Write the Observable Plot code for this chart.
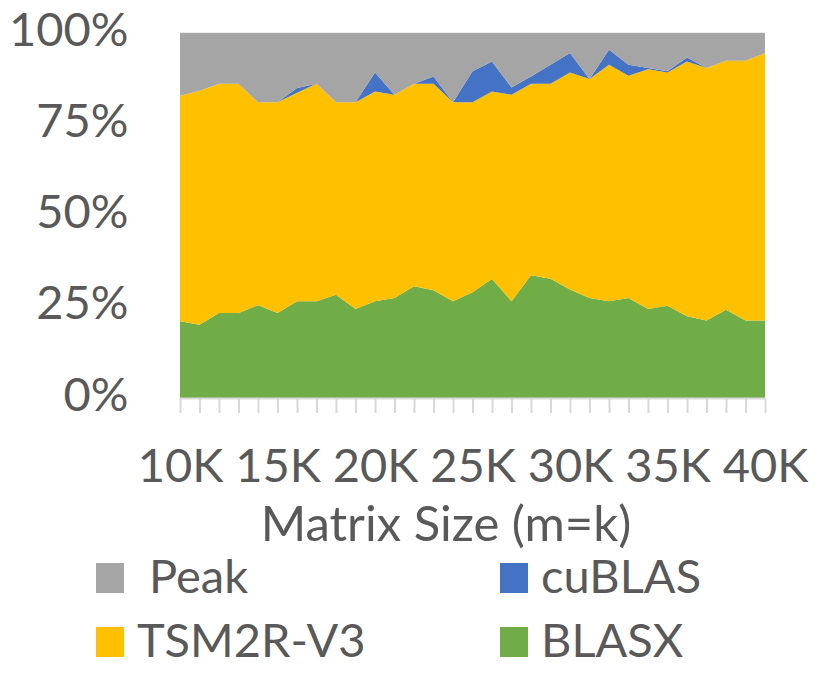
<!DOCTYPE html>
<html>
<head>
<meta charset="utf-8">
<script src="https://cdn.jsdelivr.net/npm/d3@7"></script>
<script src="https://cdn.jsdelivr.net/npm/@observablehq/plot@0.6"></script>
<style>
  html, body { margin: 0; padding: 0; background: #fff; }
  #chart { width: 830px; }
</style>
</head>
<body>
<div id="chart"></div>
<script>
const sizes = [10,11,12,13,14,15,16,17,18,19,20,21,22,23,24,25,26,27,28,29,30,31,32,33,34,35,36,37,38,39,40];
const labelTicks = [10,15,20,25,30,35,40];
const yTicks = [0,25,50,75,100];
const series = ["BLASX","TSM2R-V3","cuBLAS","Peak"];
const colors = ["#70ad47","#ffc000","#4472c4","#a5a5a5"];
const xTitle = "Matrix Size (m=k)";

const blasx  = [21.0,20.1,23.3,23.3,25.4,23.3,26.5,26.5,28.3,24.4,26.5,27.4,30.6,29.5,26.5,29.0,32.6,26.5,33.6,32.7,29.7,27.4,26.5,27.4,24.4,25.3,22.4,21.2,24.2,21.2,21.2];
const tsm2r  = [61.8,64.1,62.8,62.8,55.6,57.7,57.1,59.6,52.7,56.6,57.5,55.7,55.5,56.6,54.5,52.0,51.4,56.6,52.5,53.4,59.5,60.0,64.8,60.9,65.7,63.9,69.8,69.2,68.2,71.2,73.3];
const cublas = [0,0,0,0,0,0,1.3,0,0,0,5.2,0,0,2.0,0,8.5,8.2,2.0,2.0,5.2,5.3,0,4.1,3.0,0.3,0.3,1.1,0,0,0,0];
const peak   = [17.2,15.8,13.9,13.9,19.0,19.0,15.1,13.9,19.0,19.0,10.8,16.9,13.9,11.9,19.0,10.5,7.8,14.9,11.9,8.7,5.5,12.6,4.6,8.7,9.6,10.5,6.7,9.6,7.6,7.6,5.5];

const values = [blasx, tsm2r, cublas, peak];
const table = series.flatMap((s, j) => sizes.map((x, i) => ({x, y: values[j][i], s})));

const FONT = "Lato, 'Open Sans', sans-serif";
const TEXT = "#595959";

const plot = Plot.plot({
  width: 830,
  height: 548,
  marginLeft: 180,
  marginRight: 65,
  marginTop: 33,
  marginBottom: 150,
  style: {fontFamily: FONT, color: TEXT, background: "white", overflow: "visible"},
  x: {domain: [10, 40]},
  y: {domain: [0, 100]},
  color: {domain: series, range: colors},
  marks: [
    Plot.ruleY([25, 50, 75, 100], {stroke: "#d9d9d9", strokeWidth: 2}),
    Plot.areaY(table, {x: "x", y: "y", z: "s", fill: "s", order: series}),
    Plot.ruleY([0], {stroke: "#d9d9d9", strokeWidth: 2}),
    Plot.axisY({ticks: yTicks, tickFormat: d => d + "%", tickSize: 0, tickPadding: 52, fontSize: 47, label: null, dy: -3}),
    Plot.axisX({ticks: sizes, tickSize: 15, tickFormat: () => "", stroke: "#d9d9d9", strokeWidth: 2, label: null}),
    Plot.axisX({ticks: labelTicks, tickFormat: d => d + "K", tickSize: 0, tickPadding: 50, fontSize: 47, label: null}),
    Plot.text([xTitle], {text: d => d, frameAnchor: "bottom", lineAnchor: "middle", textAnchor: "middle",
      dy: 127, dx: -27, fontSize: 49, fill: TEXT})
  ]
});
document.getElementById("chart").appendChild(plot);

// legend below the plot
const legendItems = [
  {name: " Peak", color: "#a5a5a5", col: 0, row: 0},
  {name: "cuBLAS", color: "#4472c4", col: 1, row: 0},
  {name: "TSM2R-V3", color: "#ffc000", col: 0, row: 1},
  {name: "BLASX", color: "#70ad47", col: 1, row: 1}
];
const colX = [96, 500];
const rowBase = [45, 109];
const leg = d3.select("#chart").append("svg")
  .attr("width", 830).attr("height", 133)
  .style("display", "block")
  .style("font-family", FONT);
const g = leg.selectAll("g").data(legendItems).join("g");
g.append("rect")
  .attr("x", d => colX[d.col]).attr("y", d => rowBase[d.row] - 30)
  .attr("width", 28).attr("height", 30).attr("fill", d => d.color);
g.append("text")
  .attr("x", d => colX[d.col] + 41).attr("y", d => rowBase[d.row])
  .attr("fill", TEXT).attr("font-size", 47)
  .style("white-space", "pre")
  .text(d => d.name);
</script>
</body>
</html>
